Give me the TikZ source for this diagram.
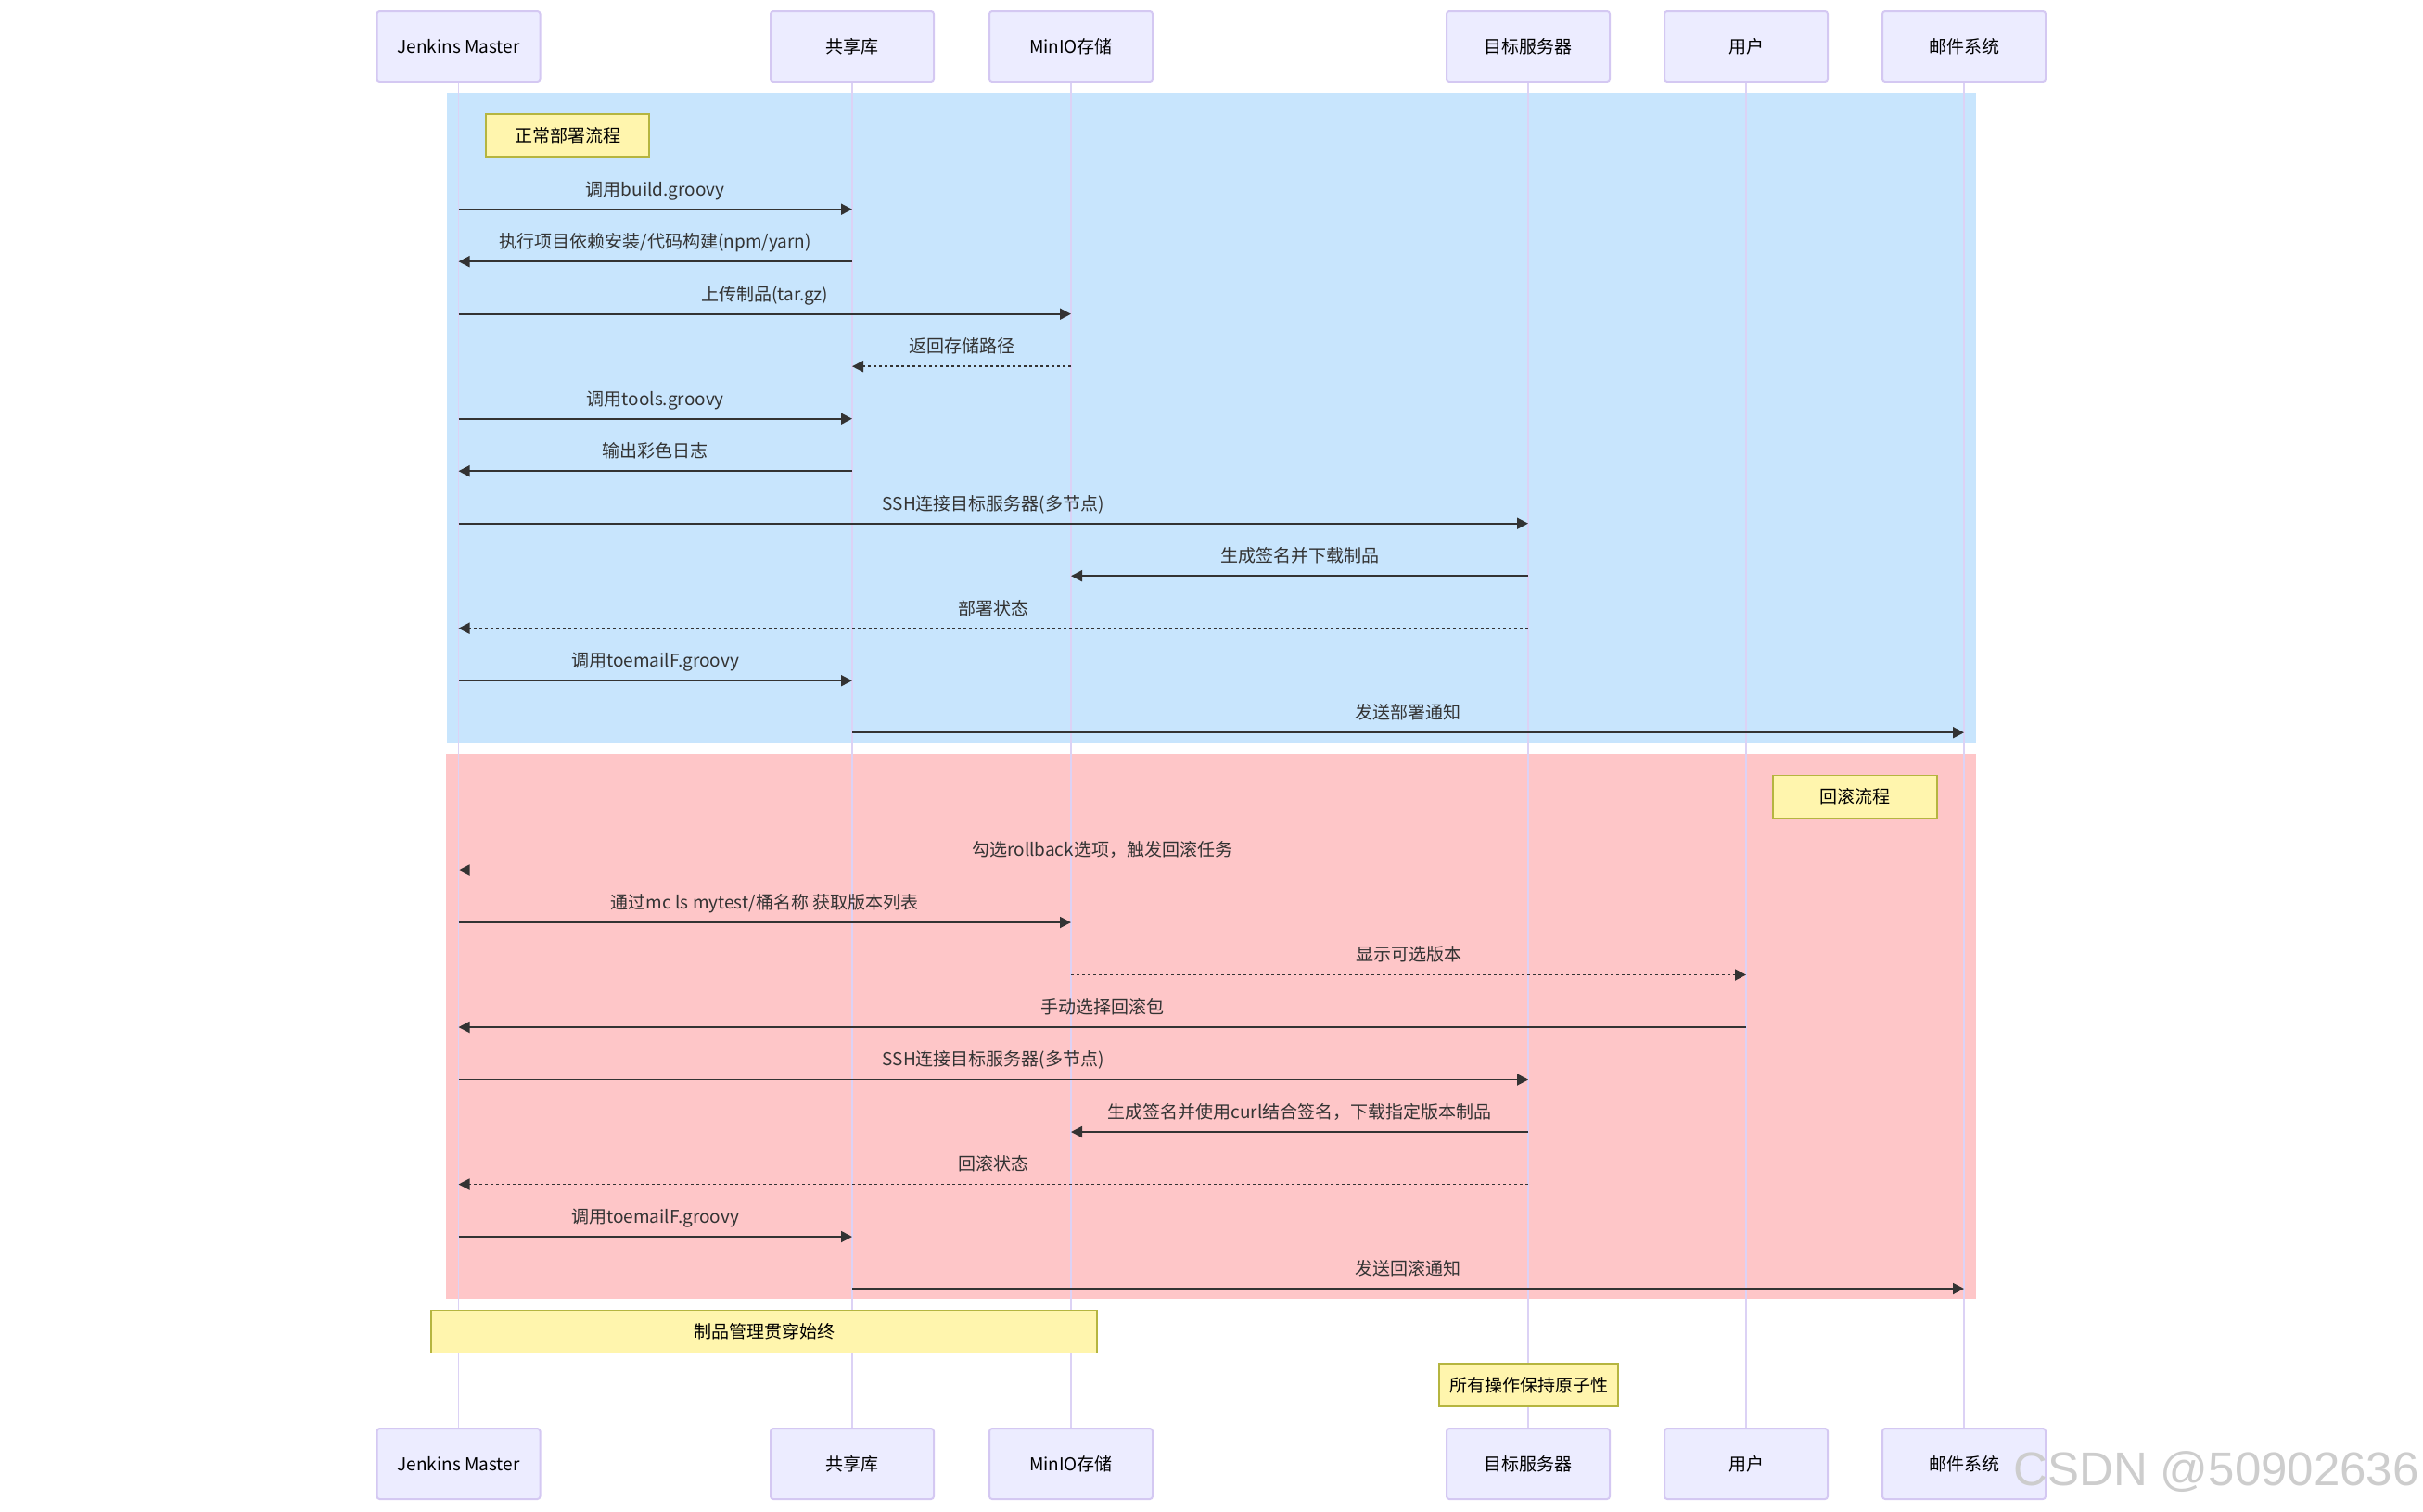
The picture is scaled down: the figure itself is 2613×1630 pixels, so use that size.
\documentclass[tikz,border=0pt]{standalone}
\usepackage{fontspec}
\setmainfont{Noto Sans CJK SC}
\newfontfamily\wmfont{Liberation Sans}
\usetikzlibrary{arrows.meta}
\definecolor{actfill}{HTML}{ECECFF}
\definecolor{actline}{HTML}{D4C8F2}
\definecolor{lifecol}{HTML}{DCD2F5}
\definecolor{bluebg}{RGB}{200,229,253}
\definecolor{pinkbg}{RGB}{254,198,200}
\definecolor{notefill}{HTML}{FFF5AD}
\definecolor{noteline}{HTML}{B5B540}
\definecolor{msgcol}{HTML}{333333}
\definecolor{wmcol}{RGB}{205,205,205}
\begin{document}
\begin{tikzpicture}[x=0.5pt,y=-0.5pt,
  txt/.style={font=\fontsize{9.5}{11}\selectfont},
  actor/.style={txt, draw=actline, fill=actfill, line width=1pt, rounded corners=1.5pt,
    minimum width=88pt, minimum height=38pt, inner sep=0pt, text=black},
  lifeline/.style={draw=lifecol, line width=0.75pt},
  msg/.style={draw=msgcol, line width=0.9pt, -{Triangle[length=6pt,width=6pt]}},
  reply/.style={msg, dash pattern=on 1.5pt off 1.5pt},
  lbl/.style={txt, anchor=base, yshift=7.3pt, text=msgcol, inner sep=0pt},
  notebox/.style={txt, draw=noteline, fill=notefill, line width=0.8pt, inner sep=0pt,
    minimum height=23pt, text=black}
]
\useasboundingbox (0,0) rectangle (2613,1630);
% section backgrounds
\fill[bluebg] (482,100) rectangle (2131,801);
\fill[pinkbg] (481,813) rectangle (2131,1401);
% participants
\node[actor] (J) at (494.5,50) {Jenkins Master};
\node[actor] (S) at (919,50) {共享库};
\node[actor] (M) at (1155,50) {MinIO存储};
\node[actor] (T) at (1648,50) {目标服务器};
\node[actor] (U) at (1883,50) {用户};
\node[actor] (E) at (2118,50) {邮件系统};
\node[actor] (J2) at (494.5,1579) {Jenkins Master};
\node[actor] (S2) at (919,1579) {共享库};
\node[actor] (M2) at (1155,1579) {MinIO存储};
\node[actor] (T2) at (1648,1579) {目标服务器};
\node[actor] (U2) at (1883,1579) {用户};
\node[actor] (E2) at (2118,1579) {邮件系统};
% lifelines
\foreach \a in {J,S,M,T,U,E}{\draw[lifeline] (\a.south) -- (\a2.north);}
% notes
\node[notebox, minimum width=88pt] (n1) at (612,146) {正常部署流程};
\node[notebox, minimum width=88.5pt] (n2) at (2000.5,859.5) {回滚流程};
\node[notebox, minimum width=359pt] (n3) at (824,1436.5) {制品管理贯穿始终};
\node[notebox, minimum width=96.5pt] (n4) at (1648.5,1494) {所有操作保持原子性};
% normal deployment
\draw[msg] (J |- 0,225.7) -- node[lbl]{调用build.groovy} (S |- 0,225.7);
\draw[msg] (S |- 0,282.2) -- node[lbl]{执行项目依赖安装/代码构建(npm/yarn)} (J |- 0,282.2);
\draw[msg] (J |- 0,338.7) -- node[lbl]{上传制品(tar.gz)} (M |- 0,338.7);
\draw[reply] (M |- 0,395.2) -- node[lbl]{返回存储路径} (S |- 0,395.2);
\draw[msg] (J |- 0,451.7) -- node[lbl]{调用tools.groovy} (S |- 0,451.7);
\draw[msg] (S |- 0,508.2) -- node[lbl]{输出彩色日志} (J |- 0,508.2);
\draw[msg] (J |- 0,564.7) -- node[lbl]{SSH连接目标服务器(多节点)} (T |- 0,564.7);
\draw[msg] (T |- 0,621.2) -- node[lbl]{生成签名并下载制品} (M |- 0,621.2);
\draw[reply] (T |- 0,677.7) -- node[lbl]{部署状态} (J |- 0,677.7);
\draw[msg] (J |- 0,734.2) -- node[lbl]{调用toemailF.groovy} (S |- 0,734.2);
\draw[msg] (S |- 0,790.2) -- node[lbl]{发送部署通知} (E |- 0,790.2);
% rollback
\draw[msg] (U |- 0,938.5) -- node[lbl]{勾选rollback选项，触发回滚任务} (J |- 0,938.5);
\draw[msg] (J |- 0,995) -- node[lbl]{通过mc ls mytest/桶名称 获取版本列表} (M |- 0,995);
\draw[reply] (M |- 0,1051.5) -- node[lbl]{显示可选版本} (U |- 0,1051.5);
\draw[msg] (U |- 0,1108) -- node[lbl]{手动选择回滚包} (J |- 0,1108);
\draw[msg] (J |- 0,1164.5) -- node[lbl]{SSH连接目标服务器(多节点)} (T |- 0,1164.5);
\draw[msg] (T |- 0,1221) -- node[lbl]{生成签名并使用curl结合签名，下载指定版本制品} (M |- 0,1221);
\draw[reply] (T |- 0,1277.5) -- node[lbl]{回滚状态} (J |- 0,1277.5);
\draw[msg] (J |- 0,1334) -- node[lbl]{调用toemailF.groovy} (S |- 0,1334);
\draw[msg] (S |- 0,1390) -- node[lbl]{发送回滚通知} (E |- 0,1390);
% watermark
\node[font=\wmfont\fontsize{25.5}{28}\selectfont, text=wmcol, inner sep=0pt] (wm) at (2390,1588) {CSDN @50902636};
\end{tikzpicture}
\end{document}
